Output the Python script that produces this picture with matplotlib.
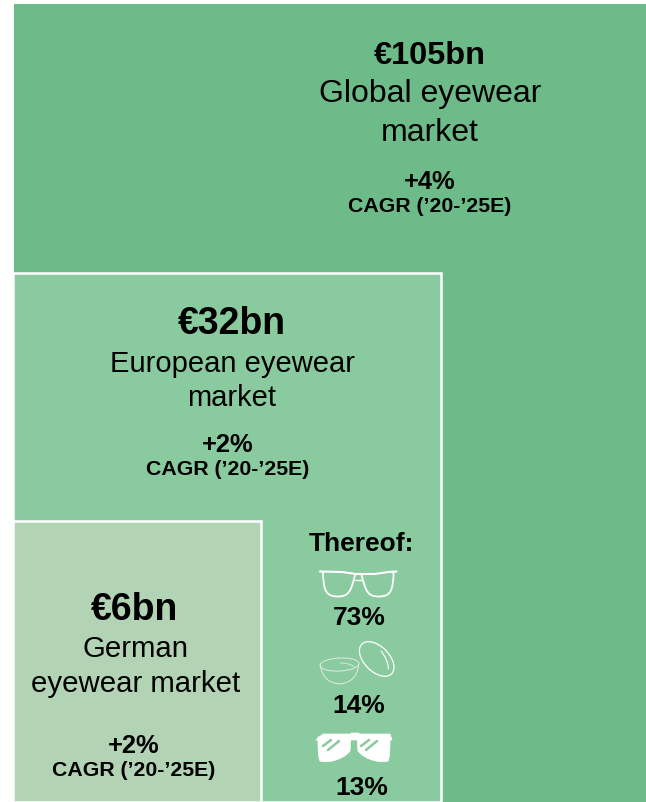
import matplotlib
matplotlib.use("Agg")
import matplotlib.pyplot as plt
from matplotlib.patches import Rectangle, Ellipse, PathPatch
from matplotlib.path import Path

# Market figures, outermost to innermost
market_sizes = ["€105bn", "€32bn", "€6bn"]
market_names = ["Global eyewear\nmarket", "European eyewear\nmarket", "German\neyewear market"]
market_growth = ["+4%", "+2%", "+2%"]
growth_note = "CAGR (’20-’25E)"
split_title = "Thereof:"
split_shares = ["73%", "14%", "13%"]

# Layout in pixel space
W, H = 646, 803
GREENS = ["#6CBB88", "#8ACA9F", "#B2D4B5"]
BOXES = [(14, 5, 646, 803), (13, 274, 441, 803), (13, 522, 261, 803)]
TEXT_X = [430, 231.5, 135]
SIZE_Y = [56, 324, 610]
SIZE_PT = [23.4, 27, 27]
NAME_X = [430, 232, 136]
NAME_PT = [23, 21, 21.2]
NAME_Y = [[94, 133], [364, 398], [649, 684]]
GROWTH_Y = [182, 445, 746]
NOTE_Y = [207, 470, 771]
NOTE_X = [430, 228, 134]
SHARE_X = [359, 359, 362]
SHARE_Y = [618, 706, 788]

plt.rcParams["font.family"] = ["Liberation Sans", "DejaVu Sans"]
fig = plt.figure(figsize=(W / 100, H / 100), dpi=100, facecolor="white")
ax = fig.add_axes([0, 0, 1, 1])
ax.set_xlim(0, W)
ax.set_ylim(H, 0)
ax.axis("off")

for i, (x0, y0, x1, y1) in enumerate(BOXES):
    ax.add_patch(Rectangle((x0, y0), x1 - x0, y1 - y0, facecolor=GREENS[i],
                           edgecolor="white" if i else "none", linewidth=1.8 if i else 0, zorder=i + 1))

for i in range(3):
    ax.text(TEXT_X[i], SIZE_Y[i], market_sizes[i], ha="center", va="center",
            fontsize=SIZE_PT[i], fontweight="bold", color="black", zorder=5)
    for line, y in zip(market_names[i].split("\n"), NAME_Y[i]):
        ax.text(NAME_X[i], y, line, ha="center", va="center",
                fontsize=NAME_PT[i], color="black", zorder=5)
    ax.text(NOTE_X[i], GROWTH_Y[i], market_growth[i], ha="center", va="center",
            fontsize=18.4, fontweight="bold", color="black", zorder=5)
    ax.text(NOTE_X[i], NOTE_Y[i], growth_note, ha="center", va="center",
            fontsize=15.3, fontweight="bold", color="black", zorder=5)

ax.text(361.5, 544, split_title, ha="center", va="center", fontsize=19, fontweight="bold", zorder=5)
for s, x, y in zip(split_shares, SHARE_X, SHARE_Y):
    ax.text(x, y, s, ha="center", va="center", fontsize=19, fontweight="bold", zorder=5)


def stroke(verts, codes, lw=1.5, color="white", fill="none"):
    ax.add_patch(PathPatch(Path(verts, codes), facecolor=fill, edgecolor=color,
                           linewidth=lw, zorder=6, capstyle="round", joinstyle="round"))


M, L, C = Path.MOVETO, Path.LINETO, Path.CURVE4

# Clear-lens spectacles
stroke([(320, 572.5), (342, 573), (356, 575), (362, 575), (369, 575), (375, 575), (388, 573), (396.5, 572.5)],
       [M, L, L, L, L, L, L, L], lw=1.5)
for sign in (1, -1):
    mx = lambda x: 358.3 + sign * (x - 358.3)
    stroke([(mx(323), 573), (mx(323.5), 592), (mx(326), 597.5), (mx(338), 597.5),
            (mx(349), 597.5), (mx(351), 592), (mx(355), 576)],
           [M, C, C, C, C, C, C], lw=1.3)
stroke([(355, 581), (362, 581)], [M, L], lw=1.0)

# Pair of contact lenses
ax.add_patch(Ellipse((339.5, 665.5), 39, 13, angle=-3, facecolor="none", edgecolor="#D6E8DA", linewidth=0.8, zorder=6))
stroke([(320.5, 666), (322, 691), (357, 691), (358.5, 666)], [M, C, C, C], lw=0.8, color="#D6E8DA")
stroke([(340, 664), (346, 664), (351, 665), (354, 668)], [M, C, C, C], lw=0.7, color="#D6E8DA")
ax.add_patch(Ellipse((376.7, 660), 42, 25, angle=45, facecolor="none", edgecolor="white", linewidth=0.9, zorder=6))
stroke([(381, 652), (386, 658), (388, 664), (388.5, 670)], [M, C, C, C], lw=0.8)

# Solid sunglasses
sun_frame = [(316, 741), (323, 735), (351, 735), (351, 734), (359, 734), (359, 735), (390, 735), (392, 741),
             (316, 741)]
stroke(sun_frame, [M, L, L, L, L, L, L, L, L], lw=0.5, fill="white")
for sign in (1, -1):
    mx = lambda x: 354 + sign * (x - 354)
    stroke([(mx(318), 738), (mx(318), 750), (mx(318), 758), (mx(320), 762), (mx(326), 764), (mx(342), 762),
            (mx(350), 752), (mx(351), 738), (mx(318), 738)],
           [M, C, C, C, C, C, C, L, L], lw=0.5, fill="white")
for x0, y0, x1, y1 in [(323, 747, 331, 741), (328, 751, 339, 742), (361, 747, 369, 741), (366, 751, 377, 742)]:
    stroke([(x0, y0), (x1, y1)], [M, L], lw=1.8, color=GREENS[1])

fig.savefig("out.png", dpi=100, facecolor="white")
